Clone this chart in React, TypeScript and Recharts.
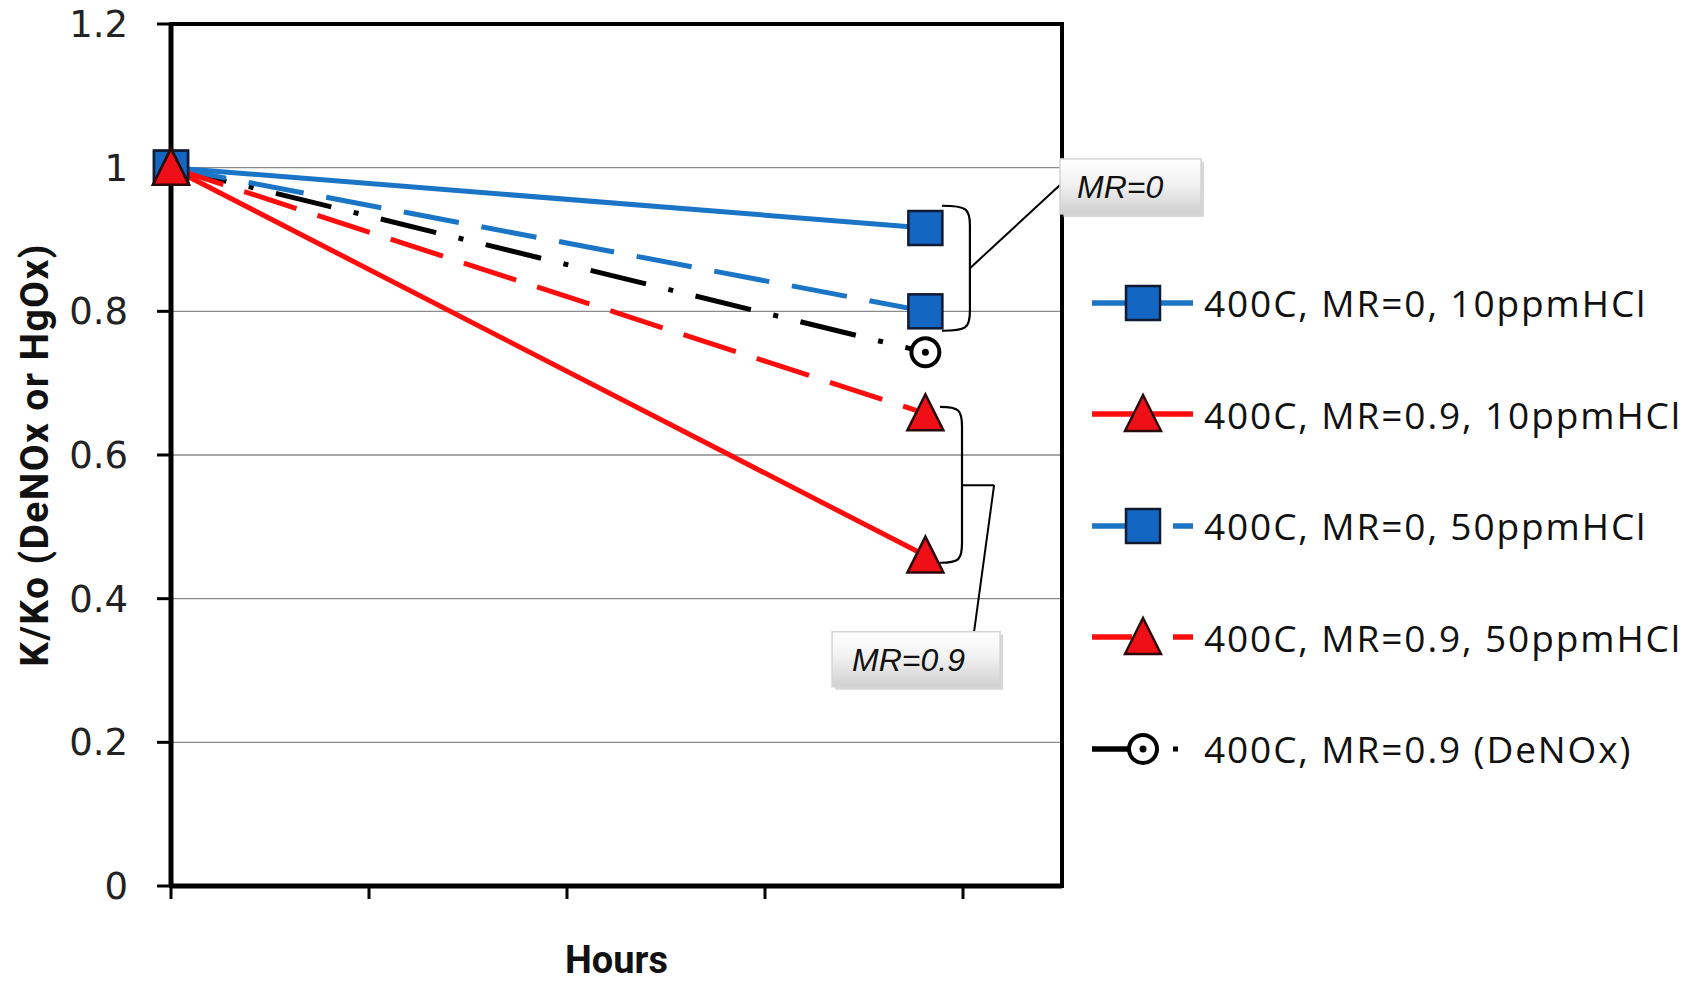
import React from 'react';
import {
  LineChart,
  Line,
  XAxis,
  YAxis,
  CartesianGrid,
  ReferenceLine,
  ReferenceDot,
  ReferenceArea,
  Legend,
} from 'recharts';

// ---- data ----
const hours = [0, 3.81];
const mr0_10ppm = [1, 0.916];
const mr09_10ppm = [1, 0.46];
const mr0_50ppm = [1, 0.8];
const mr09_50ppm = [1, 0.658];
const mr09_denox = [1, 0.743];

const seriesNames = [
  '400C, MR=0, 10ppmHCl',
  '400C, MR=0.9, 10ppmHCl',
  '400C, MR=0, 50ppmHCl',
  '400C, MR=0.9, 50ppmHCl',
  '400C, MR=0.9 (DeNOx)',
];
const yTicks = [0, 0.2, 0.4, 0.6, 0.8, 1, 1.2];
const xTicks = [0, 1, 2, 3, 4];
const yLabel = 'K/Ko (DeNOx or HgOx)';
const xLabel = 'Hours';

const data = hours.map((h, i) => ({
  h,
  a: mr0_10ppm[i],
  b: mr09_10ppm[i],
  c: mr0_50ppm[i],
  d: mr09_50ppm[i],
  e: mr09_denox[i],
}));

// ---- styles ----
const BLUE = '#1b75c6';
const BLUE_FILL = '#1367c2';
const RED = '#ff0d0d';
const RED_FILL = '#ee0f17';
const LEGEND_W = 612;

const SquareDot = (p: any) => {
  const { cx, cy, index } = p;
  if (cx == null || cy == null) return <g key={index} />;
  return (
    <rect key={`sq${index}`} x={cx - 17} y={cy - 17} width={34} height={34} fill={BLUE_FILL} stroke="#111a33" strokeWidth={2.5} />
  );
};
const TriDot = (p: any) => {
  const { cx, cy, index } = p;
  if (cx == null || cy == null) return <g key={index} />;
  return (
    <polygon
      key={`tr${index}`}
      points={`${cx},${cy - 19} ${cx - 18},${cy + 17} ${cx + 18},${cy + 17}`}
      fill={RED_FILL}
      stroke="#2a0a0a"
      strokeWidth={2.5}
      strokeLinejoin="miter"
    />
  );
};
const CircDot = (p: any) => {
  const { cx, cy, index } = p;
  if (cx == null || cy == null) return <g key={index} />;
  return (
    <g key={`ci${index}`}>
      <circle cx={cx} cy={cy} r={14} fill="#fff" stroke="#000" strokeWidth={4} />
      <circle cx={cx} cy={cy} r={3.5} fill="#000" />
    </g>
  );
};

const bracket = (w: number) => (p: any) => {
  const { x1, y1, y2 } = p;
  const top = Math.min(y1, y2);
  const bot = Math.max(y1, y2);
  const x = x1;
  const r = 20;
  const d = `M${x - w},${top} C${x - 3},${top} ${x},${top + 3} ${x},${top + r} L${x},${bot - r} C${x},${bot - 3} ${x - 3},${bot} ${x - w},${bot}`;
  return <path d={d} fill="none" stroke="#000" strokeWidth={2.2} />;
};

const calloutBox = (text: string, dx: number, dy: number, w: number, h: number, tx: number) => (p: any) => {
  const { cx, cy } = p;
  const id = `grad_${text.replace(/[^a-z0-9]/gi, '')}`;
  const x = cx + dx;
  const y = cy + dy;
  return (
    <g>
      <defs>
        <linearGradient id={id} x1="0" y1="0" x2="0" y2="1">
          <stop offset="0%" stopColor="#ffffff" />
          <stop offset="45%" stopColor="#f2f2f2" />
          <stop offset="100%" stopColor="#cfcfcf" />
        </linearGradient>
      </defs>
      <rect x={x + 3} y={y + 3} width={w} height={h} fill="#bdbdbd" opacity={0.6} />
      <rect x={x} y={y} width={w} height={h} fill={`url(#${id})`} stroke="#d4d4d4" strokeWidth={1.5} />
      <text
        x={x + tx}
        y={y + h / 2 + 1}
        dominantBaseline="central"
        fontFamily="'Liberation Sans', Arial, sans-serif"
        fontStyle="italic"
        fontSize={32}
        fill="#111"
      >
        {text}
      </text>
    </g>
  );
};

type Item = { name: string; color: string; kind: 'solid' | 'dash' | 'dashdot'; marker: 'sq' | 'tri' | 'circ' };
const legendItems: Item[] = [
  { name: seriesNames[0], color: BLUE, kind: 'solid', marker: 'sq' },
  { name: seriesNames[1], color: RED, kind: 'solid', marker: 'tri' },
  { name: seriesNames[2], color: BLUE, kind: 'dash', marker: 'sq' },
  { name: seriesNames[3], color: RED, kind: 'dash', marker: 'tri' },
  { name: seriesNames[4], color: '#000', kind: 'dashdot', marker: 'circ' },
];

const LegendSwatch = ({ it }: { it: Item }) => {
  const cy = 28;
  const mx = 51;
  let lines: React.ReactNode;
  if (it.kind === 'solid') {
    lines = <line x1={0} y1={cy} x2={101} y2={cy} stroke={it.color} strokeWidth={5.5} />;
  } else if (it.kind === 'dash') {
    lines = (
      <g>
        <line x1={0} y1={cy} x2={40} y2={cy} stroke={it.color} strokeWidth={5.5} />
        <line x1={81} y1={cy} x2={101} y2={cy} stroke={it.color} strokeWidth={5.5} />
      </g>
    );
  } else {
    lines = (
      <g>
        <line x1={0} y1={cy} x2={40} y2={cy} stroke={it.color} strokeWidth={5.5} />
        <rect x={81} y={cy - 2.5} width={5} height={5} fill="#000" />
      </g>
    );
  }
  let marker: React.ReactNode;
  if (it.marker === 'sq') marker = <SquareDot cx={mx} cy={cy} index={0} />;
  else if (it.marker === 'tri') marker = <TriDot cx={mx} cy={cy} index={0} />;
  else marker = <CircDot cx={mx} cy={cy} index={0} />;
  return (
    <svg width={112} height={56} style={{ display: 'block', overflow: 'visible' }}>
      {lines}
      {marker}
    </svg>
  );
};

const renderLegend = () => (
  <div style={{ display: 'flex', flexDirection: 'column' }}>
    {legendItems.map((it) => (
      <div key={it.name} style={{ height: 111.5, display: 'flex', alignItems: 'center' }}>
        <LegendSwatch it={it} />
        <span
          style={{
            fontFamily: "'Open Sans', sans-serif",
            fontSize: 37,
            letterSpacing: 1.9,
            color: '#111',
            whiteSpace: 'nowrap',
            lineHeight: 1,
          }}
        >
          {it.name}
        </span>
      </div>
    ))}
  </div>
);

const YLabelContent = (p: any) => {
  const vb = p.viewBox || {};
  const cy = (vb.y ?? 24) + (vb.height ?? 862) / 2;
  const cx = 35;
  return (
    <text
      x={cx}
      y={cy}
      transform={`rotate(-90, ${cx}, ${cy})`}
      textAnchor="middle"
      dominantBaseline="central"
      fontFamily="Roboto, sans-serif"
      fontWeight={700}
      fontSize={39}
      letterSpacing={1.4}
      fill="#111"
    >
      {yLabel}
    </text>
  );
};

export default function App() {
  return (
    <div style={{ position: 'absolute', left: 0, top: 0, width: 1704, height: 982, background: '#fff' }}>
      <LineChart width={1704} height={982} data={data} margin={{ top: 24, right: 642 - LEGEND_W, left: 0, bottom: 0 }}>
        <CartesianGrid horizontal vertical={false} stroke="#8a8a8a" strokeWidth={1.3} />
        <XAxis
          dataKey="h"
          type="number"
          domain={[0, 4.5]}
          ticks={xTicks}
          height={96}
          axisLine={{ stroke: '#000', strokeWidth: 5 }}
          tickLine={{ stroke: '#000', strokeWidth: 3 }}
          tickSize={13}
          tickFormatter={() => ''}
          label={{
            value: xLabel,
            position: 'insideBottom',
            offset: 9,
            fontFamily: 'Roboto, sans-serif',
            fontWeight: 700,
            fontSize: 38,
            fill: '#111',
          }}
        />
        <YAxis
          type="number"
          domain={[0, 1.2]}
          ticks={yTicks}
          width={171}
          axisLine={{ stroke: '#000', strokeWidth: 5 }}
          tickLine={{ stroke: '#000', strokeWidth: 3 }}
          tickSize={14}
          tickMargin={29}
          tick={{ fontFamily: "'DejaVu Sans', sans-serif", fontSize: 37, fill: '#222' }}
          label={<YLabelContent />}
        />
        <ReferenceArea x1={0} x2={4.5} y1={0} y2={1.2} fill="none" stroke="#000" strokeWidth={4} ifOverflow="visible" />

        <Line dataKey="e" name={seriesNames[4]} stroke="#000" strokeWidth={5} strokeDasharray="57 23 5 23" dot={CircDot} activeDot={false} isAnimationActive={false} legendType="none" />
        <Line dataKey="a" name={seriesNames[0]} stroke={BLUE} strokeWidth={5} dot={SquareDot} activeDot={false} isAnimationActive={false} />
        <Line dataKey="c" name={seriesNames[2]} stroke={BLUE} strokeWidth={5} strokeDasharray="56 23" dot={SquareDot} activeDot={false} isAnimationActive={false} />
        <Line dataKey="d" name={seriesNames[3]} stroke={RED} strokeWidth={5} strokeDasharray="55 22" dot={TriDot} activeDot={false} isAnimationActive={false} />
        <Line dataKey="b" name={seriesNames[1]} stroke={RED} strokeWidth={5} dot={TriDot} activeDot={false} isAnimationActive={false} />

        {/* MR=0 bracket and callout */}
        <ReferenceLine segment={[{ x: 4.035, y: 0.947 }, { x: 4.035, y: 0.773 }]} shape={bracket(28)} ifOverflow="visible" />
        <ReferenceLine segment={[{ x: 4.035, y: 0.86 }, { x: 4.49, y: 0.976 }]} stroke="#000" strokeWidth={2} ifOverflow="visible" />
        <ReferenceDot x={4.49} y={0.976} ifOverflow="visible" shape={calloutBox('MR=0', 0, -26, 141, 55, 17)} />

        {/* MR=0.9 bracket and callout */}
        <ReferenceLine segment={[{ x: 3.995, y: 0.667 }, { x: 3.995, y: 0.45 }]} shape={bracket(22)} ifOverflow="visible" />
        <ReferenceLine segment={[{ x: 3.995, y: 0.558 }, { x: 4.157, y: 0.558 }]} stroke="#000" strokeWidth={2} ifOverflow="visible" />
        <ReferenceLine segment={[{ x: 4.157, y: 0.558 }, { x: 4.056, y: 0.354 }]} stroke="#000" strokeWidth={2} ifOverflow="visible" />
        <ReferenceDot x={4.056} y={0.354} ifOverflow="visible" shape={calloutBox('MR=0.9', -142, 0, 168, 55, 20)} />

        <Legend
          layout="vertical"
          verticalAlign="top"
          align="right"
          content={renderLegend}
          wrapperStyle={{ left: 1092, top: 247, width: LEGEND_W, right: 'auto' }}
        />
      </LineChart>
    </div>
  );
}
